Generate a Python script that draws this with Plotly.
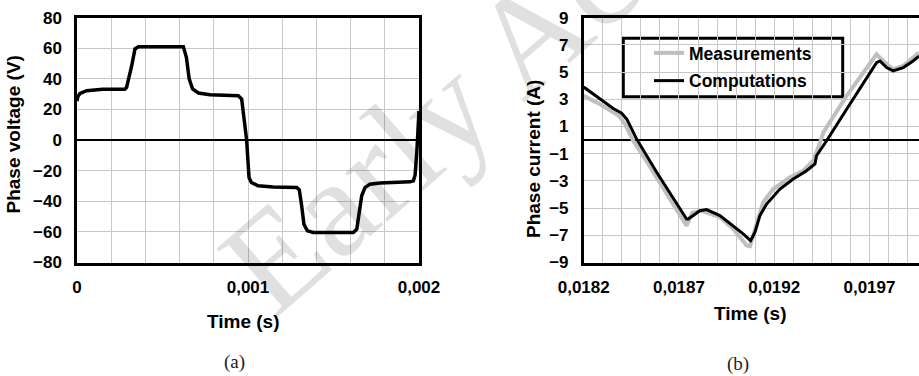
import plotly.graph_objects as go

# ---- (a) phase voltage over one electrical period ----
volt_time = [0, 0.000005, 0.0000175, 0.000057, 0.00015, 0.00028, 0.00029, 0.000305,
             0.00032, 0.000339, 0.000359, 0.0005, 0.000622, 0.00064, 0.000656,
             0.000676, 0.00071, 0.000778, 0.000943, 0.000963, 0.000977, 0.000992,
             0.001006, 0.00102, 0.001059, 0.001147, 0.001285, 0.0013, 0.001314,
             0.001327, 0.001347, 0.001382, 0.0015, 0.001616, 0.001636, 0.001651,
             0.001665, 0.001684, 0.001713, 0.001772, 0.001947, 0.001967, 0.001977,
             0.001987, 0.001996, 0.002]
volt_value = [25.5, 28.5, 30.5, 32.3, 33.2, 33.2, 34.5, 41,
              48.6, 59.6, 61, 61, 61, 54, 40,
              33.4, 30.8, 29.7, 29, 26.8, 13.7, 0,
              -24.4, -27.7, -29.9, -30.7, -31, -32.5, -43,
              -55, -59.3, -60.4, -60.4, -60.4, -58.2, -47.3,
              -36.4, -31, -28.8, -28.1, -27.3, -26.6, -23,
              -8, 7.2, 19]

# ---- (b) phase current: measured vs computed ----
meas_time = [0.0182, 0.018286, 0.018385, 0.018417, 0.01846, 0.018522, 0.01874,
             0.018769, 0.018815, 0.018915, 0.018985, 0.019055, 0.019073, 0.019108,
             0.019142, 0.019195, 0.019282, 0.019352, 0.019405, 0.019441, 0.019458,
             0.01958, 0.019737, 0.019772, 0.019824, 0.019877, 0.019929, 0.01996]
meas_value = [3.25, 2.64, 1.78, 1.17, -0.05, -1.39, -6.29,
              -5.35, -5.19, -5.67, -6.53, -7.75, -7.8, -6.04,
              -4.57, -3.6, -2.74, -2.25, -1.52, -0.17, 0.56,
              3.25, 6.31, 5.82, 5.21, 5.45, 6.07, 6.43]

comp_time = [0.0182, 0.018286, 0.018355, 0.018399, 0.018426, 0.018478, 0.018583,
             0.01874, 0.018749, 0.01881, 0.018845, 0.018915, 0.018985, 0.019037,
             0.019076, 0.019099, 0.019125, 0.01916, 0.01923, 0.0193, 0.01937,
             0.019414, 0.019422, 0.019475, 0.01958, 0.019737, 0.019755, 0.01979,
             0.019824, 0.019877, 0.019929, 0.01996]
comp_value = [3.9, 3.06, 2.32, 1.98, 1.54, 0.07, -2.37,
              -5.8, -5.8, -5.19, -5.11, -5.55, -6.29, -6.9,
              -7.39, -6.77, -5.55, -4.7, -3.6, -2.86, -2.25,
              -1.76, -1.15, -0.05, 2.27, 5.7, 5.82, 5.33,
              5.09, 5.33, 5.82, 6.18]

W, H = 919, 376
FONT = "Liberation Sans, Arial, sans-serif"
SERIF = "Liberation Serif, Times New Roman, serif"
GRID = "#c8c8c8"


def px(x):
    return x / W


def py(y):
    return 1 - y / H


fig = go.Figure()

fig.add_trace(go.Scatter(
    x=volt_time, y=volt_value, mode="lines", xaxis="x", yaxis="y",
    line=dict(color="black", width=3.5), showlegend=False,
))
fig.add_trace(go.Scatter(
    x=meas_time, y=meas_value, mode="lines", xaxis="x2", yaxis="y2",
    name="Measurements", legendgroup="m",
    line=dict(color="#bfbfbf", width=4),
))
fig.add_trace(go.Scatter(
    x=comp_time, y=comp_value, mode="lines", xaxis="x2", yaxis="y2",
    name="Computations", legendgroup="c",
    line=dict(color="black", width=3),
))

tick_font = dict(family=FONT, size=17, color="black", weight="bold")
ydom = [py(262.5), py(17.7)]

common_x = dict(
    showline=True, linecolor="black", linewidth=2.5, ticks="",
    showgrid=True, gridcolor=GRID, gridwidth=1, zeroline=False,
    tickfont=tick_font, ticklabelstandoff=7, automargin=False,
)
common_y = dict(
    showline=True, linecolor="black", linewidth=2.5, ticks="",
    showgrid=True, gridcolor=GRID, gridwidth=1,
    zeroline=True, zerolinecolor="black", zerolinewidth=2,
    tickfont=tick_font, ticklabelstandoff=9, automargin=False,
)

fig.update_layout(
    width=W, height=H,
    margin=dict(l=0, r=0, t=0, b=0),
    paper_bgcolor="white", plot_bgcolor="white",
    separators=", ",
    xaxis=dict(
        domain=[px(77), px(419)], range=[0, 0.002], anchor="y",
        dtick=0.001, tick0=0, mirror=True,
        minor=dict(dtick=0.0002, tick0=0, showgrid=True, gridcolor=GRID, gridwidth=1),
        **common_x,
    ),
    yaxis=dict(
        domain=ydom, range=[-80, 80], anchor="x",
        dtick=20, tick0=0, mirror=True,
        **common_y,
    ),
    xaxis2=dict(
        domain=[px(583.7), 1.0], range=[0.0182, 0.01996], anchor="y2",
        dtick=0.0005, tick0=0.0182, mirror=True,
        minor=dict(dtick=0.0001, tick0=0.0182, showgrid=True, gridcolor=GRID, gridwidth=1),
        **common_x,
    ),
    yaxis2=dict(
        domain=ydom, range=[-9, 9], anchor="x2",
        dtick=2, tick0=1, mirror=False,
        **common_y,
    ),
    showlegend=True,
    legend=dict(
        x=px(649), y=py(35), xanchor="left", yanchor="top",
        bgcolor="rgba(0,0,0,0)", borderwidth=0,
        font=dict(family=FONT, size=17.5, color="black", weight="bold"),
        traceorder="grouped", tracegroupgap=2,
    ),
)

# legend frame (white fill over the grid, under the curves)
fig.add_shape(
    type="rect", xref="paper", yref="paper",
    x0=px(623.3), x1=px(842.7), y0=py(96.7), y1=py(38.3),
    line=dict(color="black", width=3), fillcolor="white", layer="between",
)


def label(text, x, y, font, angle=0):
    fig.add_annotation(text=text, xref="paper", yref="paper",
                       x=px(x), y=py(y), xanchor="center", yanchor="middle",
                       textangle=angle, showarrow=False, font=font)


title_font = dict(family=FONT, size=19, color="black", weight="bold")
label("Phase voltage (V)", 12.5, 135, title_font, -90)
label("Phase current (A)", 533, 159, title_font, -90)
label("Time (s)", 244, 321.7, title_font)
label("Time (s)", 750, 313, title_font)

cap_font = dict(family=SERIF, size=19, color="#222")
label("(a)", 235, 362, cap_font)
label("(b)", 738, 364, cap_font)

# faint diagonal watermark
label("Early Access", 516, 46,
      dict(family=SERIF, size=140, color="rgba(0,0,0,0.12)"), -41)

fig.write_html("out.html")
